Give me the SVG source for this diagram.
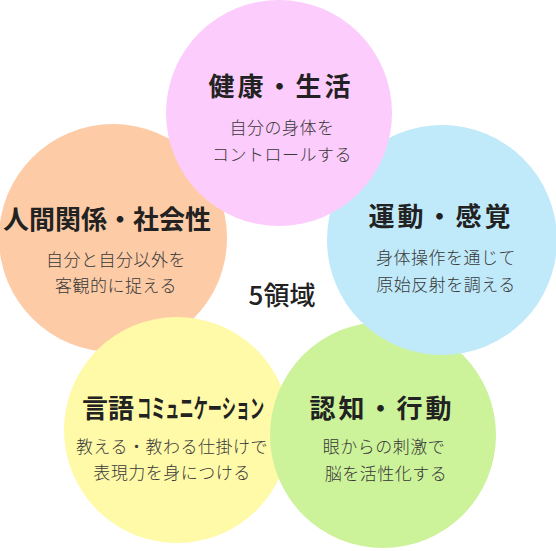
<svg xmlns="http://www.w3.org/2000/svg" width="556" height="551" viewBox="0 0 556 551">
<style>
.t{font-family:"Noto Sans CJK JP","Noto Sans",sans-serif;font-weight:bold;font-size:26px;fill:#222;text-anchor:middle}
.s{font-family:"Noto Sans CJK JP","Noto Sans",sans-serif;font-size:17px;font-weight:300;fill:#383838;text-anchor:middle;letter-spacing:0.5px}
.c{font-family:"Noto Sans CJK JP","Noto Sans",sans-serif;font-size:26px;font-weight:500;fill:#222;text-anchor:middle}
</style>
<rect width="556" height="551" fill="#fff"/>
<g id="jinkan">
<circle cx="113" cy="238" r="114" fill="#FDCCA6"/>
<text class="t" x="107" y="229">人間関係・社会性</text>
<text class="s" x="116" y="266">自分と自分以外を</text>
<text class="s" x="116" y="292">客観的に捉える</text>
</g>
<g id="gengo">
<circle cx="177" cy="430" r="113" fill="#FFFAA8"/>
<text class="t" x="82" y="418" style="text-anchor:start">言語</text>
<text class="t" style="text-anchor:start" transform="translate(137,418) scale(0.545,1)">コミュニケーション</text>
<text class="s" x="172" y="453">教える・教わる仕掛けで</text>
<text class="s" x="172" y="479">表現力を身につける</text>
</g>
<g id="ninchi">
<circle cx="383" cy="435" r="113" fill="#CCF29A"/>
<text class="t" x="382" y="418" style="letter-spacing:3px">認知・行動</text>
<text class="s" x="384" y="453">眼からの刺激で</text>
<text class="s" x="386" y="480">脳を活性化する</text>
</g>
<g id="undo">
<circle cx="442" cy="240" r="115" fill="#C0EAFA"/>
<text class="t" x="441" y="226" style="letter-spacing:3px">運動・感覚</text>
<text class="s" x="446" y="264">身体操作を通じて</text>
<text class="s" x="446" y="291">原始反射を調える</text>
</g>
<g id="kenko">
<circle cx="279" cy="113" r="113" fill="#FCCCFC"/>
<text class="t" x="281" y="96" style="letter-spacing:3px">健康・生活</text>
<text class="s" x="282" y="134">自分の身体を</text>
<text class="s" x="282" y="161">コントロールする</text>
</g>
<g id="center">
<text class="c" x="282" y="305">5領域</text>
</g>
<g id="connectors"></g>
</svg>
